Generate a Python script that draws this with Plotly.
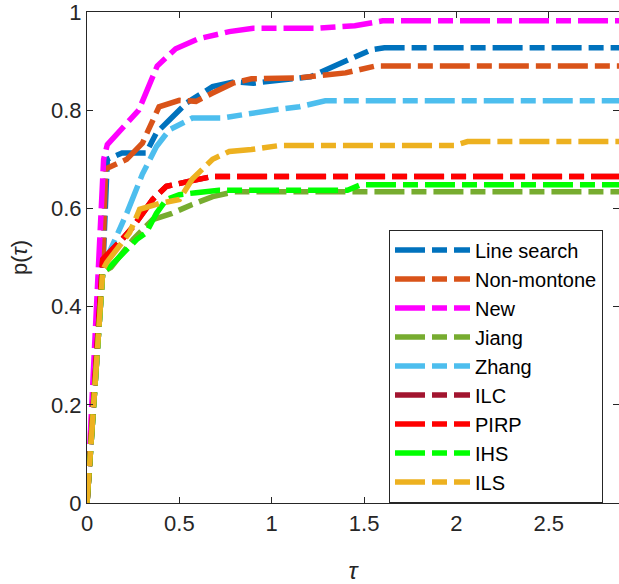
import plotly.graph_objects as go

names = ["Line search", "Non-montone", "New", "Jiang", "Zhang", "ILC", "PIRP", "IHS", "ILS"]
colors = ["#0072BD", "#D95319", "#FF00FF", "#77AC30", "#4DBEEE", "#A2142F", "#FF0000", "#00FF00", "#EDB120"]

line_search_x = [0, 0.085, 0.11, 0.19, 0.32, 0.376, 0.446, 0.54, 0.68, 0.80, 0.9, 1.04, 1.21, 1.40, 1.54, 1.61, 2.9]
line_search_y = [0, 0.47, 0.70, 0.713, 0.713, 0.754, 0.78, 0.815, 0.848, 0.858, 0.855, 0.862, 0.868, 0.90, 0.923, 0.927, 0.927]

non_montone_x = [0, 0.085, 0.1, 0.215, 0.30, 0.35, 0.39, 0.5, 0.59, 0.68, 0.79, 0.89, 1.04, 1.15, 1.40, 1.56, 1.6, 2.9]
non_montone_y = [0, 0.47, 0.68, 0.70, 0.733, 0.774, 0.807, 0.82, 0.818, 0.835, 0.855, 0.864, 0.866, 0.866, 0.876, 0.89, 0.89, 0.89]

new_x = [0, 0.06, 0.09, 0.11, 0.28, 0.38, 0.48, 0.6, 0.77, 0.9, 1.25, 1.45, 1.6, 2.9]
new_y = [0, 0.49, 0.70, 0.73, 0.80, 0.89, 0.925, 0.945, 0.96, 0.967, 0.967, 0.972, 0.982, 0.982]

jiang_x = [0, 0.085, 0.13, 0.25, 0.355, 0.46, 0.57, 0.68, 0.80, 2.9]
jiang_y = [0, 0.47, 0.48, 0.537, 0.577, 0.59, 0.608, 0.624, 0.634, 0.634]

zhang_x = [0, 0.085, 0.12, 0.215, 0.30, 0.376, 0.446, 0.57, 0.73, 0.89, 1.0, 1.15, 1.29, 2.9]
zhang_y = [0, 0.47, 0.51, 0.59, 0.67, 0.726, 0.76, 0.784, 0.784, 0.794, 0.80, 0.807, 0.819, 0.819]

ilc_x = [0, 0.085, 0.19, 0.25, 0.355, 0.43, 0.55, 0.68, 2.9]
ilc_y = [0, 0.496, 0.537, 0.563, 0.618, 0.645, 0.655, 0.665, 0.665]

pirp_x = [0, 0.085, 0.19, 0.25, 0.355, 0.43, 0.55, 0.68, 2.9]
pirp_y = [0, 0.496, 0.537, 0.563, 0.618, 0.645, 0.655, 0.665, 0.665]

ihs_x = [0, 0.085, 0.12, 0.27, 0.32, 0.376, 0.43, 0.5, 0.59, 0.715, 1.41, 1.48, 2.9]
ihs_y = [0, 0.47, 0.48, 0.537, 0.55, 0.59, 0.618, 0.628, 0.632, 0.637, 0.637, 0.648, 0.648]

ils_x = [0, 0.086, 0.107, 0.23, 0.285, 0.39, 0.5, 0.57, 0.68, 0.77, 0.89, 1.04, 1.99, 2.06, 2.9]
ils_y = [0, 0.475, 0.49, 0.55, 0.598, 0.61, 0.618, 0.66, 0.70, 0.716, 0.72, 0.728, 0.728, 0.736, 0.736]

series_x = [line_search_x, non_montone_x, new_x, jiang_x, zhang_x, ilc_x, pirp_x, ihs_x, ils_x]
series_y = [line_search_y, non_montone_y, new_y, jiang_y, zhang_y, ilc_y, pirp_y, ihs_y, ils_y]

x_ticks = [0, 0.5, 1, 1.5, 2, 2.5]
y_ticks = [0, 0.2, 0.4, 0.6, 0.8, 1]

FONT = "Liberation Sans, Arial, sans-serif"
AX = "#262626"

fig = go.Figure()
for n, c, xs, ys in zip(names, colors, series_x, series_y):
    fig.add_trace(go.Scatter(
        x=xs, y=ys, name=n, mode="lines",
        line=dict(color=c, width=5.5, dash="30px,7px,15px,7px"),
    ))

# invisible trace to carry right-side inward tick marks
fig.add_trace(go.Scatter(x=[0], y=[0], yaxis="y2", showlegend=False,
                         mode="markers", marker=dict(opacity=0), hoverinfo="skip"))

fig.update_layout(
    width=619, height=584,
    margin=dict(l=87, r=0, t=12, b=81, autoexpand=False),
    paper_bgcolor="white", plot_bgcolor="white",
    font=dict(family=FONT, size=22, color=AX),
    showlegend=True,
    legend=dict(
        x=(389 - 87) / 532, y=(504 - 230) / 492, xanchor="left", yanchor="top",
        bgcolor="white", bordercolor=AX, borderwidth=1,
        font=dict(family=FONT, size=20, color="#000000"),
        itemwidth=75, tracegroupgap=0, traceorder="normal",
        entrywidth=240, entrywidthmode="pixels",
    ),
    xaxis=dict(
        range=[0, 2.88], tickvals=x_ticks, ticktext=[str(v) for v in x_ticks],
        showline=True, linecolor=AX, linewidth=1.2, mirror="ticks",
        ticks="inside", ticklen=6, tickcolor=AX, showgrid=False, zeroline=False,
        automargin=False, ticklabeloverflow="allow",
        title=dict(text="<i>τ</i>", font=dict(size=24, family=FONT), standoff=28),
    ),
    yaxis=dict(
        range=[0, 1], tickvals=y_ticks, ticktext=[str(v) for v in y_ticks],
        showline=True, linecolor=AX, linewidth=1.2,
        ticks="inside", ticklen=6, tickcolor=AX, showgrid=False, zeroline=False,
        automargin=False, ticklabeloverflow="allow",
        title=dict(text="p(<i>τ</i>)", font=dict(size=22, family=FONT), standoff=17),
    ),
    yaxis2=dict(
        range=[0, 1], tickvals=y_ticks, overlaying="y", side="right",
        showline=False, ticks="inside", ticklen=6, tickcolor=AX,
        showticklabels=False, showgrid=False, zeroline=False, automargin=False,
    ),
)

fig.write_html("out.html", config={"displayModeBar": False},
               post_script="document.body.style.margin='0';")
